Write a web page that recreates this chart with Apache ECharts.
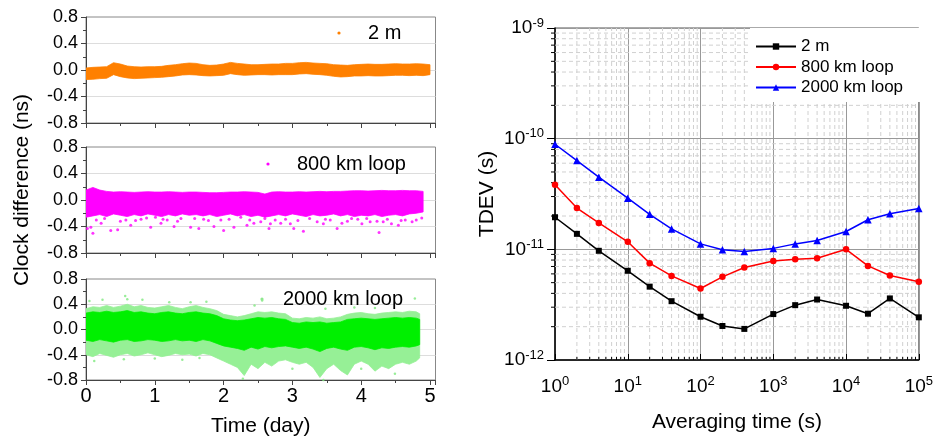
<!DOCTYPE html>
<html><head><meta charset="utf-8">
<script src="https://cdn.jsdelivr.net/npm/echarts@6/dist/echarts.min.js"></script>
<style>html,body{margin:0;padding:0;background:#fff}#c{width:936px;height:438px}</style>
</head><body><div id="c"></div>
<script>
// ---------- Left panels: clock difference (ns) vs time (day) ----------
const dayOrange = [0,0.1,0.2,0.3,0.4,0.5,0.6,0.7,0.8,0.9,1.0,1.1,1.2,1.3,1.4,1.5,1.6,1.7,1.8,1.9,2.0,2.1,2.2,2.3,2.4,2.5,2.6,2.7,2.8,2.9,3.0,3.1,3.2,3.3,3.4,3.5,3.6,3.7,3.8,3.9,4.0,4.1,4.2,4.3,4.4,4.5,4.6,4.7,4.8,4.9,5.0];
const orangeHigh = [0.03,0.04,0.045,0.05,0.11,0.09,0.06,0.05,0.045,0.05,0.05,0.055,0.07,0.08,0.095,0.105,0.10,0.08,0.07,0.075,0.09,0.115,0.10,0.09,0.08,0.08,0.085,0.09,0.09,0.10,0.10,0.11,0.115,0.105,0.10,0.095,0.08,0.075,0.07,0.08,0.085,0.09,0.085,0.085,0.09,0.095,0.09,0.09,0.095,0.09,0.08];
const orangeLow = [-0.145,-0.14,-0.13,-0.125,-0.07,-0.10,-0.12,-0.13,-0.125,-0.12,-0.115,-0.11,-0.10,-0.09,-0.075,-0.07,-0.075,-0.085,-0.09,-0.085,-0.08,-0.055,-0.07,-0.08,-0.075,-0.07,-0.07,-0.075,-0.07,-0.07,-0.07,-0.06,-0.055,-0.065,-0.07,-0.08,-0.095,-0.105,-0.10,-0.09,-0.09,-0.085,-0.09,-0.09,-0.085,-0.08,-0.08,-0.085,-0.08,-0.085,-0.07];

const dayMagenta = [0,0.1,0.2,0.3,0.4,0.5,0.6,0.7,0.8,0.9,1.0,1.1,1.2,1.3,1.4,1.5,1.6,1.7,1.8,1.9,2.0,2.1,2.2,2.3,2.4,2.5,2.6,2.7,2.8,2.9,3.0,3.1,3.2,3.3,3.4,3.5,3.6,3.7,3.8,3.9,4.0,4.1,4.2,4.3,4.4,4.5,4.6,4.7,4.8,4.9];
const magentaHigh = [0.15,0.19,0.15,0.13,0.12,0.125,0.12,0.115,0.12,0.125,0.12,0.12,0.125,0.12,0.115,0.12,0.12,0.115,0.11,0.11,0.115,0.12,0.12,0.125,0.12,0.115,0.09,0.12,0.125,0.12,0.12,0.125,0.12,0.125,0.13,0.125,0.13,0.13,0.135,0.14,0.14,0.135,0.14,0.145,0.14,0.14,0.145,0.14,0.14,0.13];
const magentaLow = [-0.26,-0.24,-0.22,-0.25,-0.21,-0.23,-0.25,-0.22,-0.24,-0.21,-0.23,-0.25,-0.22,-0.24,-0.21,-0.23,-0.22,-0.24,-0.22,-0.25,-0.23,-0.21,-0.24,-0.22,-0.25,-0.23,-0.26,-0.24,-0.22,-0.24,-0.21,-0.23,-0.25,-0.22,-0.24,-0.23,-0.21,-0.24,-0.22,-0.25,-0.23,-0.24,-0.22,-0.25,-0.23,-0.22,-0.24,-0.21,-0.20,-0.18];
const magentaOutliers = [[0.02,-0.43],[0.07,-0.41],[0.10,-0.50],[0.15,-0.30],[0.22,-0.35],[0.27,-0.28],[0.36,-0.46],[0.46,-0.45],[0.50,-0.32],[0.58,-0.30],[0.65,-0.38],[0.72,-0.31],[0.80,-0.29],[0.88,-0.27],[0.94,-0.41],[1.01,-0.26],[1.09,-0.35],[1.12,-0.29],[1.18,-0.30],[1.28,-0.40],[1.33,-0.32],[1.38,-0.28],[1.52,-0.41],[1.58,-0.28],[1.64,-0.43],[1.71,-0.29],[1.78,-0.31],[1.86,-0.40],[1.96,-0.30],[2.00,-0.46],[2.08,-0.29],[2.15,-0.41],[2.25,-0.26],[2.34,-0.38],[2.38,-0.30],[2.44,-0.35],[2.54,-0.33],[2.60,-0.28],[2.66,-0.43],[2.68,-0.36],[2.75,-0.30],[2.83,-0.35],[2.90,-0.29],[2.97,-0.36],[3.02,-0.43],[3.08,-0.31],[3.16,-0.47],[3.25,-0.28],[3.36,-0.33],[3.45,-0.36],[3.48,-0.29],[3.55,-0.30],[3.65,-0.43],[3.72,-0.35],[3.80,-0.32],[3.86,-0.28],[3.95,-0.29],[4.01,-0.36],[4.08,-0.28],[4.13,-0.33],[4.23,-0.32],[4.26,-0.49],[4.32,-0.33],[4.38,-0.29],[4.44,-0.36],[4.54,-0.38],[4.58,-0.31],[4.64,-0.30],[4.74,-0.33],[4.80,-0.30],[4.88,-0.27]];

const dayGreen = [0,0.1,0.2,0.3,0.4,0.5,0.6,0.7,0.8,0.9,1.0,1.1,1.2,1.3,1.4,1.5,1.6,1.7,1.8,1.9,2.0,2.1,2.2,2.3,2.4,2.5,2.6,2.7,2.8,2.9,3.0,3.1,3.2,3.3,3.4,3.5,3.6,3.7,3.8,3.9,4.0,4.1,4.2,4.3,4.4,4.5,4.6,4.7,4.8,4.85];
const greenLightHigh = [0.33,0.36,0.35,0.38,0.35,0.37,0.40,0.36,0.38,0.35,0.34,0.36,0.38,0.35,0.33,0.36,0.38,0.35,0.33,0.30,0.24,0.22,0.20,0.22,0.25,0.28,0.27,0.28,0.26,0.25,0.18,0.17,0.19,0.18,0.20,0.17,0.18,0.20,0.24,0.26,0.27,0.25,0.24,0.26,0.27,0.28,0.27,0.29,0.28,0.25];
const greenCoreHigh = [0.26,0.28,0.27,0.29,0.27,0.28,0.30,0.27,0.28,0.26,0.25,0.27,0.28,0.26,0.25,0.27,0.28,0.26,0.25,0.22,0.17,0.15,0.14,0.15,0.17,0.19,0.18,0.19,0.17,0.16,0.11,0.10,0.12,0.11,0.12,0.10,0.11,0.12,0.16,0.17,0.18,0.17,0.16,0.17,0.18,0.19,0.18,0.19,0.18,0.16];
const greenCoreLow = [-0.17,-0.19,-0.16,-0.18,-0.20,-0.17,-0.16,-0.19,-0.18,-0.16,-0.17,-0.19,-0.18,-0.16,-0.18,-0.17,-0.19,-0.16,-0.18,-0.22,-0.26,-0.28,-0.30,-0.33,-0.28,-0.31,-0.27,-0.29,-0.27,-0.26,-0.28,-0.30,-0.28,-0.31,-0.35,-0.30,-0.28,-0.31,-0.33,-0.28,-0.27,-0.29,-0.32,-0.29,-0.30,-0.28,-0.27,-0.28,-0.26,-0.24];
const greenLightLow = [-0.40,-0.43,-0.38,-0.41,-0.44,-0.40,-0.38,-0.42,-0.40,-0.37,-0.40,-0.43,-0.41,-0.38,-0.40,-0.39,-0.42,-0.38,-0.40,-0.45,-0.50,-0.55,-0.60,-0.73,-0.55,-0.62,-0.52,-0.58,-0.50,-0.48,-0.52,-0.55,-0.52,-0.60,-0.76,-0.62,-0.55,-0.65,-0.72,-0.55,-0.50,-0.55,-0.66,-0.58,-0.62,-0.55,-0.52,-0.55,-0.50,-0.45];
const greenOutliers = [[0.05,0.45],[0.24,0.47],[0.57,0.53],[0.60,0.48],[0.82,0.47],[1.21,0.43],[1.52,0.43],[1.75,0.44],[2.45,0.38],[2.56,0.46],[3.48,0.33],[3.90,0.35],[4.20,0.34],[4.78,0.49],[0.12,-0.50],[0.55,-0.47],[1.00,-0.46],[1.40,-0.48],[1.65,-0.45],[2.28,-0.78],[3.00,-0.62],[3.45,-0.80],[4.00,-0.62],[4.49,-0.70]];

const leftTicks = [-0.8,-0.4,0.0,0.4,0.8];
const dayRange = [0, 5.08];

// ---------- Right panel: TDEV ----------
const tau = [1,2,4,10,20,40,100,200,400,1000,2000,4000,10000,20000,40000,100000];
const tdev2m = [1.95e-11,1.38e-11,9.7e-12,6.4e-12,4.6e-12,3.4e-12,2.46e-12,2.03e-12,1.91e-12,2.6e-12,3.13e-12,3.52e-12,3.09e-12,2.62e-12,3.6e-12,2.43e-12];
const tdev800 = [3.83e-11,2.36e-11,1.73e-11,1.17e-11,7.5e-12,5.75e-12,4.43e-12,5.64e-12,6.85e-12,7.85e-12,8.13e-12,8.3e-12,1.0e-11,7.08e-12,5.8e-12,5.09e-12];
const tdev2000 = [8.9e-11,6.34e-11,4.49e-11,2.9e-11,2.07e-11,1.53e-11,1.12e-11,9.9e-12,9.55e-12,1.02e-11,1.12e-11,1.2e-11,1.45e-11,1.85e-11,2.1e-11,2.34e-11];
const tauRange = [1, 1e5];
const tdevRange = [1e-12, 1e-9];
const minorTau = [2,3,4,5,6,7,8,9,20,30,40,50,60,70,80,90,200,300,400,500,600,700,800,900,2000,3000,4000,5000,6000,7000,8000,9000,20000,30000,40000,50000,60000,70000,80000,90000];
const minorTdev = [2e-12,3e-12,4e-12,5e-12,6e-12,7e-12,8e-12,9e-12,2e-11,3e-11,4e-11,5e-11,6e-11,7e-11,8e-11,9e-11,2e-10,3e-10,4e-10,5e-10,6e-10,7e-10,8e-10,9e-10];

const FONT = 'Liberation Sans, Arial, sans-serif';
const zip = (xs, ys) => xs.map((x, i) => [x, ys[i]]);

// band drawn as one polygon per layer through the axes' own coordinate mapping
function bandSeries(axis, days, layers) {
  return {
    type: 'custom', xAxisIndex: axis, yAxisIndex: axis, silent: true, z: 2, clip: true,
    data: days.map((d, i) => [d, layers[0].lo[i], layers[0].hi[i]]),
    encode: {x: 0, y: [1, 2]},
    renderItem: (params, api) => {
      if (params.dataIndex !== 0) return null;
      const children = layers.map(L => {
        const pts = [];
        for (let i = 0; i < days.length; i++) pts.push(api.coord([days[i], L.hi[i]]));
        for (let i = days.length - 1; i >= 0; i--) pts.push(api.coord([days[i], L.lo[i]]));
        return {type: 'polygon', shape: {points: pts}, style: {fill: L.color, stroke: L.color, lineWidth: 0.8}};
      });
      return {type: 'group', children};
    }
  };
}

// minor (dashed) grid lines + minor ticks on the log panel
function minorGridX(values) {
  return {
    type: 'custom', xAxisIndex: 3, yAxisIndex: 3, silent: true, z: 1, clip: false,
    data: values.map(v => [v, tdevRange[0]]),
    renderItem: (params, api) => {
      const v = values[params.dataIndex];
      const a = api.coord([v, tdevRange[0]]), b = api.coord([v, tdevRange[1]]);
      return {type: 'group', children: [
        {type: 'line', shape: {x1: a[0], y1: a[1], x2: b[0], y2: b[1]}, style: {stroke: '#d0d0d0', lineWidth: 1, lineDash: [4, 3]}},
        {type: 'line', shape: {x1: a[0], y1: a[1], x2: a[0], y2: a[1] - 3}, style: {stroke: '#000', lineWidth: 1}}
      ]};
    }
  };
}
function minorGridY(values) {
  return {
    type: 'custom', xAxisIndex: 3, yAxisIndex: 3, silent: true, z: 1, clip: false,
    data: values.map(v => [tauRange[0], v]),
    renderItem: (params, api) => {
      const v = values[params.dataIndex];
      const a = api.coord([tauRange[0], v]), b = api.coord([tauRange[1], v]);
      return {type: 'group', children: [
        {type: 'line', shape: {x1: a[0], y1: a[1], x2: b[0], y2: b[1]}, style: {stroke: '#d0d0d0', lineWidth: 1, lineDash: [4, 3]}},
        {type: 'line', shape: {x1: a[0], y1: a[1], x2: a[0] - 4, y2: a[1]}, style: {stroke: '#000', lineWidth: 1}}
      ]};
    }
  };
}

const leftGrids = [
  {left: 86, top: 17, width: 349.5, height: 106},
  {left: 86, top: 147, width: 349.5, height: 106},
  {left: 86, top: 279, width: 349.5, height: 106}
].map(g => Object.assign(g, {show: true, borderColor: '#888', borderWidth: 1}));

function leftX(i, showLabels) {
  return {
    type: 'value', gridIndex: i, min: dayRange[0], max: dayRange[1], interval: 1,
    axisLine: {show: true, onZero: false, lineStyle: {color: '#444', width: 1}},
    axisTick: {show: true, inside: false, length: 5, lineStyle: {color: '#444'}},
    minorTick: {show: true, splitNumber: 2, length: 3, lineStyle: {color: '#444'}},
    splitLine: {show: false},
    axisLabel: {show: showLabels, fontSize: 20, color: '#000', fontFamily: FONT, margin: 6,
      formatter: v => Number.isInteger(v) ? String(v) : ''},
    name: showLabels ? 'Time (day)' : '', nameLocation: 'middle', nameGap: 36,
    nameTextStyle: {fontSize: 21, color: '#000', fontFamily: FONT}
  };
}
function leftY(i) {
  return {
    type: 'value', gridIndex: i, min: leftTicks[0], max: leftTicks[leftTicks.length - 1], interval: 0.4,
    axisLine: {show: true, onZero: false, lineStyle: {color: '#444', width: 1}},
    axisTick: {show: true, inside: false, length: 5, lineStyle: {color: '#444'}},
    minorTick: {show: true, splitNumber: 2, length: 3, lineStyle: {color: '#444'}},
    splitLine: {show: true, showMinLine: false, showMaxLine: false, lineStyle: {color: '#dddddd', width: 1}},
    axisLabel: {fontSize: 18, color: '#000', fontFamily: FONT, margin: 8,
      formatter: v => (Math.abs(v) < 1e-9 ? 0 : v).toFixed(1)}
  };
}

const supRich = {e: {fontSize: 13, fontFamily: FONT, color: '#000', verticalAlign: 'top', padding: [0, 0, 10, 0]}};

function legendText(x, y, text) {
  return {type: 'text', x, y, z: 10, style: {text, font: '20px Liberation Sans', fill: '#000', align: 'left', verticalAlign: 'middle'}};
}
function legendDot(x, y, color) {
  return {type: 'circle', shape: {cx: x, cy: y, r: 1.6}, z: 10, style: {fill: color}};
}

const option = {
  animation: false,
  backgroundColor: '#fff',
  grid: leftGrids.concat([{left: 555, top: 28, width: 366.7, height: 333.7, show: true, borderColor: '#555', borderWidth: 1}]),
  xAxis: [
    leftX(0, false), leftX(1, false), leftX(2, true),
    {
      type: 'log', logBase: 10, gridIndex: 3, min: tauRange[0], max: tauRange[1], position: 'bottom',
      axisLine: {show: true, onZero: false, lineStyle: {color: '#000', width: 1.5}},
      axisTick: {show: true, inside: true, length: 6, lineStyle: {color: '#000'}},
      splitLine: {show: true, lineStyle: {color: '#999', width: 1}},
      axisLabel: {fontSize: 19, color: '#000', fontFamily: FONT, margin: 15,
        formatter: v => '10{e|' + Math.round(Math.log10(v)) + '}', rich: supRich},
      name: 'Averaging time (s)', nameLocation: 'middle', nameGap: 52,
      nameTextStyle: {fontSize: 21, color: '#000', fontFamily: FONT}
    }
  ],
  yAxis: [
    leftY(0), leftY(1), leftY(2),
    {
      type: 'log', logBase: 10, gridIndex: 3, min: tdevRange[0], max: tdevRange[1], position: 'left',
      axisLine: {show: true, onZero: false, lineStyle: {color: '#000', width: 1.5}},
      axisTick: {show: true, inside: false, length: 8, lineStyle: {color: '#000'}},
      splitLine: {show: true, lineStyle: {color: '#999', width: 1}},
      axisLabel: {fontSize: 19, color: '#000', fontFamily: FONT, margin: 11,
        formatter: v => '10{e|' + Math.round(Math.log10(v)) + '}', rich: supRich},
      name: 'TDEV (s)', nameLocation: 'middle', nameGap: 57,
      nameTextStyle: {fontSize: 21, color: '#000', fontFamily: FONT}
    }
  ],
  legend: [
    {left: 750, top: 28, orient: 'vertical', padding: [10, 19, 6, 5], backgroundColor: '#fff', z: 6,
     itemWidth: 40, itemHeight: 8, itemGap: 3.5, textStyle: {fontSize: 17, color: '#000', fontFamily: FONT},
     data: ['2 m', '800 km loop', '2000 km loop'], selectedMode: false}
  ],
  graphic: [
    {type: 'text', x: 22, y: 190, rotation: Math.PI / 2,
     style: {text: 'Clock difference (ns)', font: '21px Liberation Sans', fill: '#000', align: 'center', verticalAlign: 'middle'}},
    legendDot(339, 33, '#ff8000'), legendText(368, 33, '2 m'),
    legendDot(268, 164, '#ff00ff'), legendText(297, 164, '800 km loop'),
    legendDot(262, 299, '#8ee88e'), legendText(283, 299, '2000 km loop')
  ],
  series: [
    bandSeries(0, dayOrange, [{lo: orangeLow, hi: orangeHigh, color: '#ff8000'}]),
    bandSeries(1, dayMagenta, [{lo: magentaLow, hi: magentaHigh, color: '#ff00ff'}]),
    {type: 'scatter', xAxisIndex: 1, yAxisIndex: 1, data: magentaOutliers, symbolSize: 3, itemStyle: {color: '#ff00ff'}, silent: true, z: 3},
    bandSeries(2, dayGreen, [
      {lo: greenLightLow, hi: greenLightHigh, color: '#96f096'},
      {lo: greenCoreLow, hi: greenCoreHigh, color: '#00f000'}
    ]),
    {type: 'scatter', xAxisIndex: 2, yAxisIndex: 2, data: greenOutliers, symbolSize: 2.5, itemStyle: {color: '#7ee87e'}, silent: true, z: 3},
    minorGridX(minorTau),
    minorGridY(minorTdev),
    {type: 'line', name: '2 m', xAxisIndex: 3, yAxisIndex: 3, data: zip(tau, tdev2m), symbol: 'rect', symbolSize: 6,
     lineStyle: {color: '#000', width: 1.5}, itemStyle: {color: '#000'}, z: 5},
    {type: 'line', name: '800 km loop', xAxisIndex: 3, yAxisIndex: 3, data: zip(tau, tdev800), symbol: 'circle', symbolSize: 6.5,
     lineStyle: {color: '#ff0000', width: 1.5}, itemStyle: {color: '#ff0000'}, z: 5},
    {type: 'line', name: '2000 km loop', xAxisIndex: 3, yAxisIndex: 3, data: zip(tau, tdev2000), symbol: 'triangle', symbolSize: 7.5,
     lineStyle: {color: '#0000ff', width: 1.5}, itemStyle: {color: '#0000ff'}, z: 5}
  ]
};

const chart = echarts.init(document.getElementById('c'), null, {renderer: 'canvas'});
chart.setOption(option);
</script>
</body></html>
